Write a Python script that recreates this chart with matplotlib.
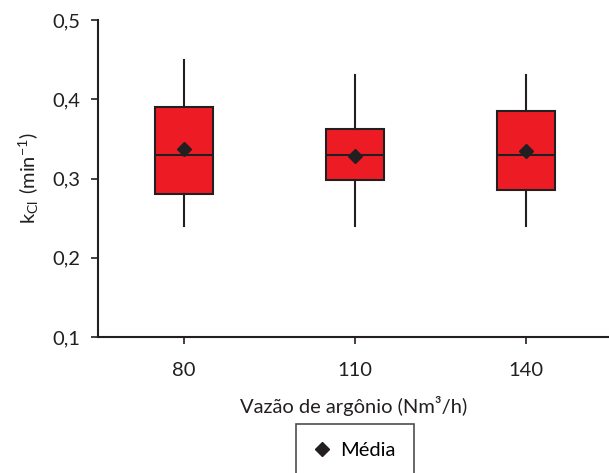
import matplotlib.pyplot as plt
from matplotlib.ticker import FuncFormatter

# box statistics per argon flow rate
vazao = ['80', '110', '140']
whis_lo = [0.24, 0.24, 0.24]
q1 = [0.28, 0.298, 0.285]
mediana = [0.33, 0.33, 0.33]
q3 = [0.39, 0.362, 0.385]
whis_hi = [0.45, 0.43, 0.43]
media = [0.337, 0.328, 0.335]

plt.rcParams['font.family'] = ['Lato', 'DejaVu Sans']

fig = plt.figure(figsize=(6.09, 4.73), dpi=100)
ax = fig.add_axes([0.161, 0.2875, 0.839, 0.6702])

stats = []
for i, lab in enumerate(vazao):
    stats.append(dict(label=lab, whislo=whis_lo[i], q1=q1[i], med=mediana[i],
                      q3=q3[i], whishi=whis_hi[i], mean=media[i], fliers=[]))

ax.bxp(stats, positions=range(len(vazao)), widths=0.335, patch_artist=True,
       showmeans=True, showcaps=False,
       boxprops=dict(facecolor='#ed1c24', edgecolor='#231f20', linewidth=1.5),
       medianprops=dict(color='#231f20', linewidth=1.5),
       whiskerprops=dict(color='#231f20', linewidth=1.5),
       meanprops=dict(marker='D', markerfacecolor='#231f20',
                      markeredgecolor='#231f20', markersize=7))

ax.set_xlim(-0.503, 2.485)
ax.set_ylim(0.1, 0.5)
ax.set_yticks([0.1, 0.2, 0.3, 0.4, 0.5])
ax.yaxis.set_major_formatter(FuncFormatter(lambda v, p: f'{v:.1f}'.replace('.', ',')))
ax.set_xticks(range(len(vazao)))
ax.set_xticklabels(vazao)

for s in ['top', 'right']:
    ax.spines[s].set_visible(False)
for s in ['left', 'bottom']:
    ax.spines[s].set_color('#231f20')
    ax.spines[s].set_linewidth(1.5)
ax.tick_params(axis='both', direction='out', length=5, width=1.2,
               color='#231f20', labelsize=14.5, labelcolor='#231f20', pad=8)
ax.tick_params(axis='x', pad=13)

ax.set_ylabel(r'$\mathregular{k_{Cl}\ (min^{-1})}$', fontsize=14.5, color='#231f20', labelpad=8)
ax.set_xlabel('Vazão de argônio (Nm³/h)', fontsize=14.5, color='#231f20', labelpad=12)

h, = ax.plot([], [], 'D', color='#231f20', markersize=7, label='Média')
leg = fig.legend(handles=[h], loc='upper center', bbox_to_anchor=(355 / 609, 1 - 424 / 473),
                 fontsize=14.5, frameon=True, fancybox=False, handlelength=0.8,
                 handletextpad=0.5, borderpad=0.9, borderaxespad=0)
leg.get_frame().set_edgecolor('#231f20')
leg.get_frame().set_linewidth(1.2)

fig.savefig('out.png', dpi=100)
